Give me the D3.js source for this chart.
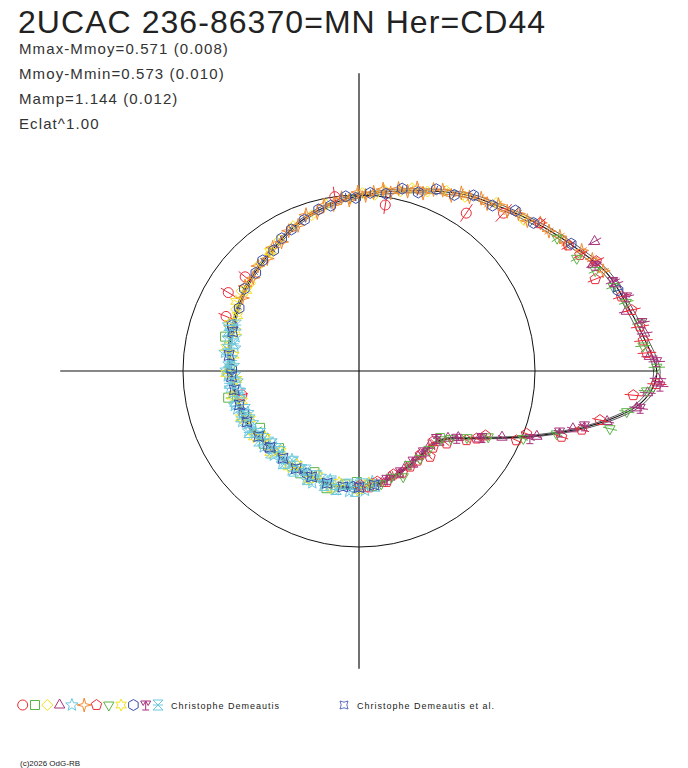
<!DOCTYPE html>
<html>
<head>
<meta charset="utf-8">
<script src="https://d3js.org/d3.v7.min.js"></script>
<style>
  html, body { margin: 0; padding: 0; background: #fff; }
  svg { display: block; font-family: "Liberation Sans", Arial, sans-serif; }
</style>
</head>
<body>
<svg id="chart" width="688" height="768"></svg>
<script>
// Star and statistics
const title = "2UCAC 236-86370=MN Her=CD44";
const statLines = ["Mmax-Mmoy=0.571 (0.008)", "Mmoy-Mmin=0.573 (0.010)", "Mamp=1.144 (0.012)", "Eclat^1.00"];
const mMaxMoy = 0.571;
const fitErr = 0.012;
const observers = ["Christophe Demeautis", "Christophe Demeautis et al."];
const copyright = "(c)2026 OdG-RB";

// Fitted light curve: phase, magnitude relative to mean
const fitPhase = [0.00,0.02,0.04,0.06,0.08,0.10,0.12,0.14,0.16,0.18,0.20,0.22,0.24,0.26,0.28,0.30,0.32,0.34,0.36,0.38,0.40,0.42,0.44,0.46,0.48,0.50,0.52,0.54,0.56,0.58,0.60,0.62,0.64,0.66,0.68,0.70,0.72,0.74,0.76,0.78,0.80,0.82,0.84,0.86,0.87,0.88,0.89,0.90,0.91,0.92,0.93,0.94,0.95,0.96,0.97,0.98,0.99];
const fitMag = [-0.571,-0.527,-0.486,-0.450,-0.385,-0.325,-0.268,-0.218,-0.178,-0.128,-0.080,-0.042,-0.008,0.018,0.050,0.082,0.122,0.165,0.200,0.224,0.247,0.272,0.294,0.309,0.322,0.340,0.360,0.372,0.380,0.395,0.425,0.446,0.452,0.453,0.449,0.445,0.443,0.442,0.450,0.472,0.500,0.530,0.553,0.570,0.573,0.565,0.530,0.470,0.365,0.255,0.125,-0.015,-0.155,-0.290,-0.410,-0.505,-0.555];

// Observations [phase, mag - mean], one array per session symbol
const obsCircle = [[0.132,-0.212],[0.155,-0.088],[0.225,0.050],[0.272,0.000],[0.390,0.190],[0.414,0.156],[0.438,0.220],[0.532,0.419]];
const obsSquare = [[0.460,0.262],[0.497,0.335],[0.532,0.300],[0.562,0.399],[0.583,0.470],[0.604,0.418],[0.622,0.500],[0.667,0.434],[0.684,0.505],[0.707,0.401],[0.731,0.470],[0.747,0.500],[0.768,0.455],[0.890,0.558]];
const obsDiamond = [[0.118,-0.260],[0.141,-0.228],[0.163,-0.160],[0.178,-0.140],[0.192,-0.095],[0.205,-0.085],[0.214,-0.050],[0.228,-0.040],[0.236,-0.005],[0.247,-0.012],[0.258,0.020],[0.281,0.040],[0.297,0.085],[0.318,0.110],[0.337,0.150],[0.352,0.195],[0.371,0.205],[0.392,0.250],[0.405,0.232],[0.426,0.270]];
const obsTriangle = [[0.752,0.440],[0.768,0.475],[0.781,0.465],[0.795,0.505],[0.808,0.500],[0.822,0.545],[0.833,0.535],[0.846,0.570],[0.858,0.560],[0.871,0.585],[0.884,0.540],[0.897,0.495],[0.906,0.420],[0.918,0.265],[0.931,0.120],[0.944,-0.080],[0.958,-0.250],[0.968,-0.395],[0.979,-0.505],[0.988,-0.540],[0.996,-0.575],[0.008,-0.545],[0.021,-0.535],[0.035,-0.480],[0.052,-0.470],[0.068,-0.410],[0.080,-0.460]];
const obsStar = [[0.446,0.262],[0.457,0.345],[0.461,0.290],[0.471,0.360],[0.478,0.285],[0.484,0.340],[0.493,0.365],[0.499,0.305],[0.506,0.318],[0.513,0.395],[0.521,0.330],[0.526,0.408],[0.535,0.392],[0.543,0.338],[0.548,0.350],[0.557,0.428],[0.565,0.352],[0.572,0.430],[0.579,0.365],[0.586,0.405],[0.594,0.452],[0.602,0.470],[0.607,0.400],[0.616,0.488],[0.624,0.418],[0.632,0.468],[0.640,0.412],[0.647,0.498],[0.655,0.418],[0.663,0.490],[0.670,0.472],[0.678,0.410],[0.687,0.405],[0.694,0.488],[0.702,0.430],[0.709,0.482],[0.718,0.405],[0.726,0.460],[0.737,0.408],[0.747,0.485],[0.758,0.420],[0.769,0.495]];
const obsStar4 = [[0.062,-0.440],[0.071,-0.418],[0.079,-0.395],[0.088,-0.352],[0.094,-0.345],[0.101,-0.318],[0.109,-0.310],[0.116,-0.270],[0.124,-0.262],[0.131,-0.232],[0.139,-0.228],[0.146,-0.196],[0.152,-0.200],[0.160,-0.172],[0.167,-0.168],[0.173,-0.130],[0.181,-0.135],[0.188,-0.118],[0.195,-0.078],[0.201,-0.095],[0.208,-0.062],[0.216,-0.064],[0.222,-0.030],[0.229,-0.045],[0.237,-0.020],[0.244,0.002],[0.251,-0.018],[0.259,0.030],[0.266,0.012],[0.274,0.048],[0.283,0.040],[0.291,0.078],[0.302,0.070],[0.313,0.118],[0.324,0.125],[0.336,0.170],[0.347,0.168],[0.359,0.210],[0.372,0.205],[0.385,0.240],[0.398,0.232],[0.411,0.268]];
const obsPentagon = [[0.752,0.470],[0.764,0.445],[0.776,0.490],[0.789,0.468],[0.801,0.520],[0.814,0.505],[0.828,0.526],[0.842,0.540],[0.851,0.575],[0.860,0.497],[0.872,0.545],[0.879,0.590],[0.890,0.474],[0.909,0.347],[0.917,0.283],[0.925,0.233],[0.934,0.025],[0.943,-0.018],[0.950,-0.207],[0.959,-0.292],[0.968,-0.363],[0.986,-0.486],[0.993,-0.572],[0.010,-0.536],[0.017,-0.527],[0.025,-0.521],[0.035,-0.502],[0.044,-0.476],[0.059,-0.396],[0.069,-0.430],[0.077,-0.379],[0.086,-0.355],[0.109,-0.307]];
const obsDownTri = [[0.765,0.478],[0.781,0.462],[0.797,0.500],[0.813,0.466],[0.829,0.548],[0.847,0.545],[0.866,0.560],[0.888,0.547],[0.899,0.470],[0.912,0.355],[0.925,0.210],[0.938,-0.010],[0.951,-0.178],[0.964,-0.413],[0.976,-0.468],[0.989,-0.536],[0.002,-0.571],[0.014,-0.524],[0.027,-0.523],[0.040,-0.488],[0.051,-0.456],[0.064,-0.410],[0.076,-0.360],[0.094,-0.330]];
const obsStar6 = [[0.352,0.180],[0.401,0.262],[0.418,0.238],[0.432,0.300],[0.444,0.265],[0.451,0.335],[0.472,0.290],[0.480,0.361],[0.503,0.305],[0.511,0.392],[0.531,0.335],[0.540,0.410],[0.560,0.352],[0.566,0.425],[0.589,0.378],[0.598,0.462],[0.618,0.410],[0.627,0.492],[0.649,0.425],[0.657,0.488],[0.681,0.420],[0.690,0.485],[0.714,0.412],[0.722,0.478],[0.748,0.422],[0.764,0.488]];
const obsHexagon = [[0.048,-0.470],[0.086,-0.370],[0.112,-0.285],[0.127,-0.262],[0.142,-0.205],[0.158,-0.190],[0.171,-0.140],[0.186,-0.125],[0.199,-0.072],[0.213,-0.068],[0.226,-0.020],[0.240,-0.015],[0.253,0.018],[0.262,0.005],[0.277,0.052],[0.289,0.060],[0.305,0.098],[0.321,0.125],[0.334,0.148],[0.348,0.190],[0.364,0.198],[0.379,0.230],[0.401,0.240],[0.423,0.285],[0.445,0.290],[0.498,0.352],[0.556,0.392],[0.612,0.428],[0.675,0.462],[0.742,0.452]];
const obsRadiation = [[0.790,0.492],[0.812,0.520],[0.836,0.560],[0.857,0.578],[0.886,0.584],[0.904,0.428],[0.921,0.250],[0.940,-0.047],[0.953,-0.190],[0.962,-0.300],[0.979,-0.518],[0.992,-0.584],[0.005,-0.571],[0.027,-0.531],[0.043,-0.495],[0.054,-0.461],[0.067,-0.418]];
const obsHourglass = [[0.443,0.320],[0.452,0.275],[0.466,0.345],[0.474,0.300],[0.487,0.352],[0.495,0.318],[0.508,0.385],[0.515,0.325],[0.529,0.405],[0.538,0.345],[0.552,0.415],[0.559,0.355],[0.567,0.420],[0.581,0.362],[0.590,0.448],[0.597,0.395],[0.611,0.478],[0.619,0.410],[0.627,0.485],[0.642,0.425],[0.650,0.495],[0.658,0.420],[0.672,0.488],[0.680,0.415],[0.689,0.482],[0.703,0.418],[0.711,0.478],[0.720,0.410],[0.735,0.475],[0.745,0.412],[0.756,0.482],[0.772,0.450]];
const obsEtAl = [[0.452,0.310],[0.481,0.322],[0.507,0.350],[0.524,0.362],[0.544,0.378],[0.568,0.388],[0.592,0.418],[0.613,0.442],[0.636,0.455],[0.659,0.452],[0.683,0.452],[0.706,0.446],[0.728,0.444],[0.750,0.448],[0.771,0.462]];

// typical error per session (mag)
const obsErr = [0.06, 0.02, 0.02, 0.03, 0.02, 0.025, 0.035, 0.03, 0.02, 0.02, 0.03, 0.02, 0.015];

// ---- symbol shapes ----
function poly(n, r, rot) {
  const p = d3.path();
  for (let i = 0; i < n; i++) {
    const a = rot + i * 2 * Math.PI / n;
    i ? p.lineTo(r * Math.cos(a), r * Math.sin(a)) : p.moveTo(r * Math.cos(a), r * Math.sin(a));
  }
  p.closePath();
  return p.toString();
}
function star(n, ro, ri, rot) {
  const p = d3.path();
  for (let i = 0; i < 2 * n; i++) {
    const r = i % 2 ? ri : ro;
    const a = rot + i * Math.PI / n;
    i ? p.lineTo(r * Math.cos(a), r * Math.sin(a)) : p.moveTo(r * Math.cos(a), r * Math.sin(a));
  }
  p.closePath();
  return p.toString();
}
const up = -Math.PI / 2;
const shapes = {
  circle: d3.symbol(d3.symbolCircle, Math.PI * 25)(),
  square: "M-4.5,-4.5H4.5V4.5H-4.5Z",
  diamond: poly(4, 5.5, up),
  triangle: poly(3, 6, up),
  star5: star(5, 6.5, 2.8, up),
  star4: star(4, 7, 2, up),
  pentagon: poly(5, 5.5, up),
  downTri: poly(3, 6, Math.PI / 2),
  star6: star(6, 6, 3.1, up),
  hexagon: poly(6, 5.5, up),
  radiation: "M-5,-4H5M-5,-4L-2.5,0.5L0,-4L2.5,0.5L5,-4M0,-4V5M-3.5,5H3.5",
  hourglass: "M-5,-5H5L-5,5H5ZM-5,0H5",
  etal: "M-5,-5Q0,-2 5,-5Q2,0 5,5Q0,2 -5,5Q-2,0 -5,-5Z"
};

const red = "#ec2a38", green = "#5cb446", yellow = "#f4e21c", purple = "#a8327c",
      cyan = "#6cc8df", orange = "#f08a30", blue = "#3a4ea8";

const series = [
  { data: obsCircle, shape: "circle", color: red, obs: 0 },
  { data: obsSquare, shape: "square", color: green, obs: 0 },
  { data: obsDiamond, shape: "diamond", color: yellow, obs: 0 },
  { data: obsTriangle, shape: "triangle", color: purple, obs: 0 },
  { data: obsStar, shape: "star5", color: cyan, obs: 0 },
  { data: obsStar4, shape: "star4", color: orange, obs: 0 },
  { data: obsPentagon, shape: "pentagon", color: red, obs: 0 },
  { data: obsDownTri, shape: "downTri", color: green, obs: 0 },
  { data: obsStar6, shape: "star6", color: yellow, obs: 0 },
  { data: obsHexagon, shape: "hexagon", color: blue, obs: 0 },
  { data: obsRadiation, shape: "radiation", color: purple, obs: 0 },
  { data: obsHourglass, shape: "hourglass", color: cyan, obs: 0 },
  { data: obsEtAl, shape: "etal", color: blue, obs: 1 }
];

// ---- scales ----
const cx = 359, cy = 371, R0 = 176;
const flux = dm => Math.pow(10, -0.4 * dm);          // Eclat^1.00
const rScale = d3.scaleLinear().domain([0, 1]).range([0, R0]);
const aScale = d3.scaleLinear().domain([0, 1]).range([Math.PI / 2, Math.PI / 2 - 2 * Math.PI]);
const rMax = rScale(flux(-mMaxMoy));

const svg = d3.select("#chart");

// title and stats
svg.append("text").attr("x", 18).attr("y", 33)
  .attr("font-size", 32).attr("letter-spacing", 1.05).attr("fill", "#222").text(title);
svg.selectAll("text.stat").data(statLines).join("text")
  .attr("class", "stat").attr("x", 19).attr("y", (d, i) => 54 + i * 25)
  .attr("font-size", 15).attr("letter-spacing", 1.1).attr("fill", "#333").text(d => d);

const g = svg.append("g").attr("transform", `translate(${cx},${cy})`);

// mean-brightness circle and axes
g.append("circle").attr("r", rScale(1)).attr("fill", "none").attr("stroke", "#111").attr("stroke-width", 1);
g.append("line").attr("x1", -rMax - 1).attr("x2", rMax + 1).attr("y1", 0).attr("y2", 0)
  .attr("stroke", "#111").attr("stroke-width", 1.2);
g.append("line").attr("y1", -rMax).attr("y2", rMax).attr("x1", 0).attr("x2", 0)
  .attr("stroke", "#111").attr("stroke-width", 1.2);

// fitted curve with its envelope (under the points)
const fit = fitPhase.map((p, i) => [p, fitMag[i]]);
[-fitErr, 0, fitErr].forEach(off => {
  const line = d3.lineRadial()
    .angle(d => aScale(d[0]))
    .radius(d => rScale(flux(d[1] + off)))
    .curve(d3.curveCatmullRomClosed);
  g.append("path").attr("d", line(fit)).attr("fill", "none")
    .attr("stroke", "#111").attr("stroke-width", off === 0 ? 1.1 : 0.7);
});

// observations
series.forEach((s, si) => {
  const err = obsErr[si];
  const sg = g.append("g").attr("stroke", s.color).attr("fill", "none").attr("stroke-width", 1);
  sg.selectAll("line").data(s.data).join("line")
    .each(function (d) {
      const a = aScale(d[0]);
      const p1 = d3.pointRadial(a, rScale(flux(d[1] + err)));
      const p2 = d3.pointRadial(a, rScale(flux(d[1] - err)));
      d3.select(this).attr("x1", p1[0]).attr("y1", p1[1]).attr("x2", p2[0]).attr("y2", p2[1]);
    });
  sg.selectAll("path").data(s.data).join("path")
    .attr("d", shapes[s.shape])
    .attr("transform", d => {
      const p = d3.pointRadial(aScale(d[0]), rScale(flux(d[1])));
      return `translate(${p[0]},${p[1]})`;
    });
});

// legend
const lg = svg.append("g");
series.filter(s => s.obs === 0).forEach((s, i) => {
  lg.append("path").attr("d", shapes[s.shape])
    .attr("transform", `translate(${22.7 + i * 12.3},705)`)
    .attr("fill", "none").attr("stroke", s.color).attr("stroke-width", 1);
});
lg.append("text").attr("x", 171).attr("y", 709).attr("font-size", 9).attr("letter-spacing", 1)
  .attr("fill", "#222").text(observers[0]);
const etal = series.find(s => s.obs === 1);
lg.append("path").attr("d", shapes[etal.shape]).attr("transform", "translate(344,705) scale(0.8)")
  .attr("fill", "none").attr("stroke", etal.color).attr("stroke-width", 1);
lg.append("text").attr("x", 357).attr("y", 709).attr("font-size", 9).attr("letter-spacing", 1)
  .attr("fill", "#222").text(observers[1]);

svg.append("text").attr("x", 20).attr("y", 766).attr("font-size", 8).attr("fill", "#222").text(copyright);
</script>
</body>
</html>
